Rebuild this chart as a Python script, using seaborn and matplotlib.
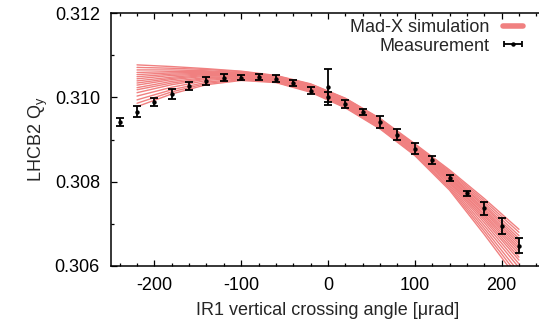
import numpy as np
import pandas as pd
import matplotlib
matplotlib.use("Agg")
import matplotlib.pyplot as plt
from matplotlib.lines import Line2D
from matplotlib.ticker import MultipleLocator
import seaborn as sns

# ---- measured tune vs. IR1 vertical crossing angle ----
meas_angle = [-240, -220, -200, -180, -160, -140, -120, -100, -80, -60, -40, -20,
              0, 0, 20, 40, 60, 80, 100, 120, 140, 160, 180, 200, 220]
meas_qy = [0.30941, 0.30966, 0.30989, 0.31007, 0.31027, 0.31039, 0.31047, 0.31047,
           0.31049, 0.31044, 0.31035, 0.31016, 0.31024, 0.31001, 0.30984, 0.30965,
           0.30942, 0.30911, 0.30878, 0.30851, 0.30809, 0.30772, 0.30737, 0.30695,
           0.30648]
meas_err = [0.00010, 0.000125, 0.00010, 0.00012, 0.00010, 0.00010, 0.00008, 0.00007,
            0.00007, 0.00008, 0.00007, 0.00008, 0.00043, 0.00011, 0.00010, 0.00008,
            0.00014, 0.00013, 0.00013, 0.00010, 0.00007, 0.00007, 0.00015, 0.00018,
            0.00018]

# ---- Mad-X simulated tune, one row per error seed ----
sim_angle = [-220, -180, -140, -100, -60, -20, 20, 60, 100, 140, 180, 220]
sim_qy = [
    [0.30978, 0.31008, 0.31030, 0.31040, 0.31035, 0.31012, 0.30975, 0.30925, 0.30862, 0.30780, 0.30675, 0.30565],
    [0.30986, 0.31013, 0.31033, 0.31042, 0.31036, 0.31014, 0.30977, 0.30927, 0.30864, 0.30784, 0.30682, 0.30575],
    [0.30994, 0.31018, 0.31036, 0.31044, 0.31038, 0.31015, 0.30979, 0.30929, 0.30866, 0.30788, 0.30689, 0.30585],
    [0.31003, 0.31024, 0.31040, 0.31046, 0.31039, 0.31017, 0.30981, 0.30931, 0.30869, 0.30792, 0.30696, 0.30596],
    [0.31011, 0.31030, 0.31043, 0.31047, 0.31041, 0.31019, 0.30983, 0.30933, 0.30871, 0.30796, 0.30703, 0.30605],
    [0.31018, 0.31034, 0.31045, 0.31049, 0.31042, 0.31020, 0.30984, 0.30935, 0.30873, 0.30799, 0.30709, 0.30614],
    [0.31023, 0.31038, 0.31047, 0.31050, 0.31043, 0.31021, 0.30986, 0.30937, 0.30875, 0.30802, 0.30714, 0.30621],
    [0.31029, 0.31042, 0.31050, 0.31051, 0.31044, 0.31022, 0.30987, 0.30938, 0.30877, 0.30805, 0.30719, 0.30628],
    [0.31034, 0.31045, 0.31052, 0.31052, 0.31045, 0.31023, 0.30988, 0.30939, 0.30878, 0.30807, 0.30723, 0.30635],
    [0.31039, 0.31048, 0.31054, 0.31054, 0.31046, 0.31024, 0.30989, 0.30941, 0.30879, 0.30810, 0.30728, 0.30641],
    [0.31044, 0.31052, 0.31055, 0.31055, 0.31046, 0.31025, 0.30990, 0.30942, 0.30881, 0.30812, 0.30732, 0.30647],
    [0.31049, 0.31055, 0.31057, 0.31056, 0.31047, 0.31026, 0.30992, 0.30943, 0.30882, 0.30815, 0.30736, 0.30653],
    [0.31054, 0.31058, 0.31059, 0.31057, 0.31048, 0.31027, 0.30993, 0.30944, 0.30884, 0.30817, 0.30741, 0.30659],
    [0.31059, 0.31061, 0.31061, 0.31058, 0.31049, 0.31028, 0.30994, 0.30946, 0.30885, 0.30819, 0.30745, 0.30665],
    [0.31065, 0.31065, 0.31063, 0.31059, 0.31050, 0.31030, 0.30995, 0.30947, 0.30887, 0.30822, 0.30750, 0.30672],
    [0.31071, 0.31069, 0.31066, 0.31061, 0.31051, 0.31031, 0.30997, 0.30949, 0.30888, 0.30825, 0.30755, 0.30680],
    [0.31077, 0.31073, 0.31068, 0.31062, 0.31052, 0.31032, 0.30998, 0.30950, 0.30890, 0.30828, 0.30760, 0.30687],
]

x_ticks = [-200, -100, 0, 100, 200]
y_ticks = [0.306, 0.308, 0.310, 0.312]

sim_color = "#f08080"

sns.set_theme(style="ticks")
plt.rcParams["font.family"] = ["Liberation Sans", "DejaVu Sans"]
plt.rcParams["mathtext.fontset"] = "custom"
plt.rcParams["mathtext.rm"] = "Liberation Sans"

fs = 13

fig = plt.figure(figsize=(5.39, 3.31), dpi=100)
ax = fig.add_axes([111 / 539, 1 - 266 / 331, 434 / 539, 253 / 331])

sim_df = pd.DataFrame(
    [(run, a, q) for run, row in enumerate(sim_qy) for a, q in zip(sim_angle, row)],
    columns=["run", "angle", "qy"],
)
sns.lineplot(data=sim_df, x="angle", y="qy", units="run", estimator=None,
             color=sim_color, lw=1.0, legend=False, ax=ax, zorder=2)

ax.errorbar(meas_angle, meas_qy, yerr=meas_err, fmt="none", ecolor="black",
            elinewidth=1.3, capsize=3.0, capthick=1.3, zorder=3)
sns.scatterplot(x=meas_angle, y=meas_qy, color="black", s=10, linewidth=0,
                ax=ax, zorder=4, legend=False)

# legend entries (gnuplot style: text first, sample on the right)
sim_handle = Line2D([], [], color=sim_color, lw=4)
meas_handle = ax.errorbar([np.nan], [np.nan], xerr=[[1.0], [1.0]], fmt="o",
                          color="black", ms=2.2, elinewidth=1.3, capsize=2.5,
                          capthick=1.3)
leg = fig.legend([sim_handle, meas_handle], ["Mad-X simulation", "Measurement"],
                 loc="upper right", bbox_to_anchor=(523 / 539, 1 - 19 / 331),
                 frameon=False, markerfirst=False, fontsize=fs,
                 handlelength=1.1, handletextpad=0.75, labelspacing=0.1,
                 borderpad=0, borderaxespad=0)

ax.set_xlim(-250, 250)
ax.set_ylim(0.306, 0.312)
ax.set_xticks(x_ticks)
ax.set_xticklabels([str(t) for t in x_ticks])
ax.set_yticks(y_ticks)
ax.set_yticklabels([f"{t:.3f}" for t in y_ticks])
ax.xaxis.set_minor_locator(MultipleLocator(20))
ax.yaxis.set_minor_locator(MultipleLocator(0.001))

for side in ["left", "right", "top", "bottom"]:
    ax.spines[side].set_visible(True)
    ax.spines[side].set_linewidth(1.1)
    ax.spines[side].set_color("black")

ax.tick_params(which="both", direction="in", top=True, right=True,
               colors="black", labelsize=fs, width=0.9)
ax.tick_params(which="major", length=4.5, pad=8)
ax.tick_params(which="minor", length=2.3)

ax.set_xlabel("IR1 vertical crossing angle [\u03bcrad]", fontsize=fs, labelpad=6)
ax.set_ylabel("LHCB2 Q$_\\mathregular{y}$", fontsize=fs, labelpad=3)
ax.set_facecolor("white")
fig.patch.set_facecolor("white")

fig.savefig("out.png", dpi=100, facecolor="white")
